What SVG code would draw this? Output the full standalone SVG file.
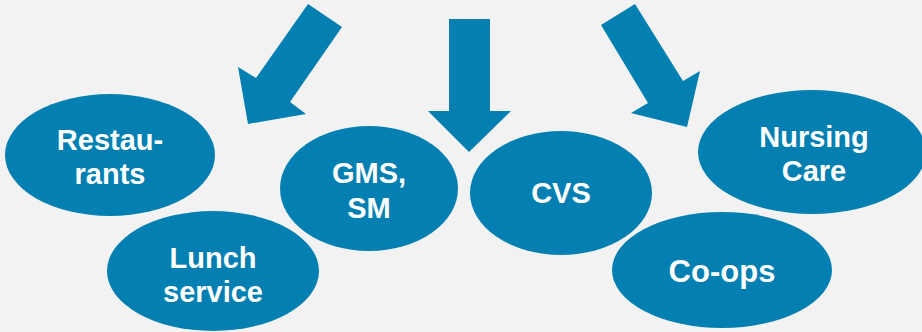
<svg xmlns="http://www.w3.org/2000/svg" width="922" height="332" viewBox="0 0 922 332">
<style>
.n{fill:#0380b1}
.a{fill:#0380b1}
text{font-family:"Liberation Sans",Arial,sans-serif;font-weight:bold;font-size:29px;fill:#ffffff;text-anchor:middle}
</style>
<rect width="922" height="332" fill="#f2f2f2"/>
<g id="connectors">
<polygon class="a" points="308,4 342,27 290,102 306,114 248,124 238,67 256,78"/>
<polygon class="a" points="449,19 490,19 490,111 511,111 469,152 428,111 449,111"/>
<polygon class="a" points="601,25 635,4 683,81 700,71 687,127 631,113 648,103"/>
</g>
<g id="restaurants">
<ellipse class="n" cx="110" cy="155" rx="105" ry="61"/>
<text x="110" y="150">Restau-</text>
<text x="110" y="184">rants</text>
</g>
<g id="lunch">
<ellipse class="n" cx="213" cy="271" rx="106" ry="60"/>
<text x="213" y="268">Lunch</text>
<text x="213" y="302">service</text>
</g>
<g id="gms">
<ellipse class="n" cx="369" cy="188.5" rx="89" ry="62.5"/>
<text x="369" y="183">GMS,</text>
<text x="369" y="218">SM</text>
</g>
<g id="cvs">
<ellipse class="n" cx="561" cy="193" rx="91" ry="62"/>
<text x="561" y="203">CVS</text>
</g>
<g id="nursing">
<ellipse class="n" cx="812" cy="152" rx="114" ry="62"/>
<text x="814" y="147">Nursing</text>
<text x="814" y="181">Care</text>
</g>
<g id="coops">
<ellipse class="n" cx="722" cy="270" rx="110" ry="58"/>
<text x="722" y="282" style="font-size:31px">Co-ops</text>
</g>
</svg>
